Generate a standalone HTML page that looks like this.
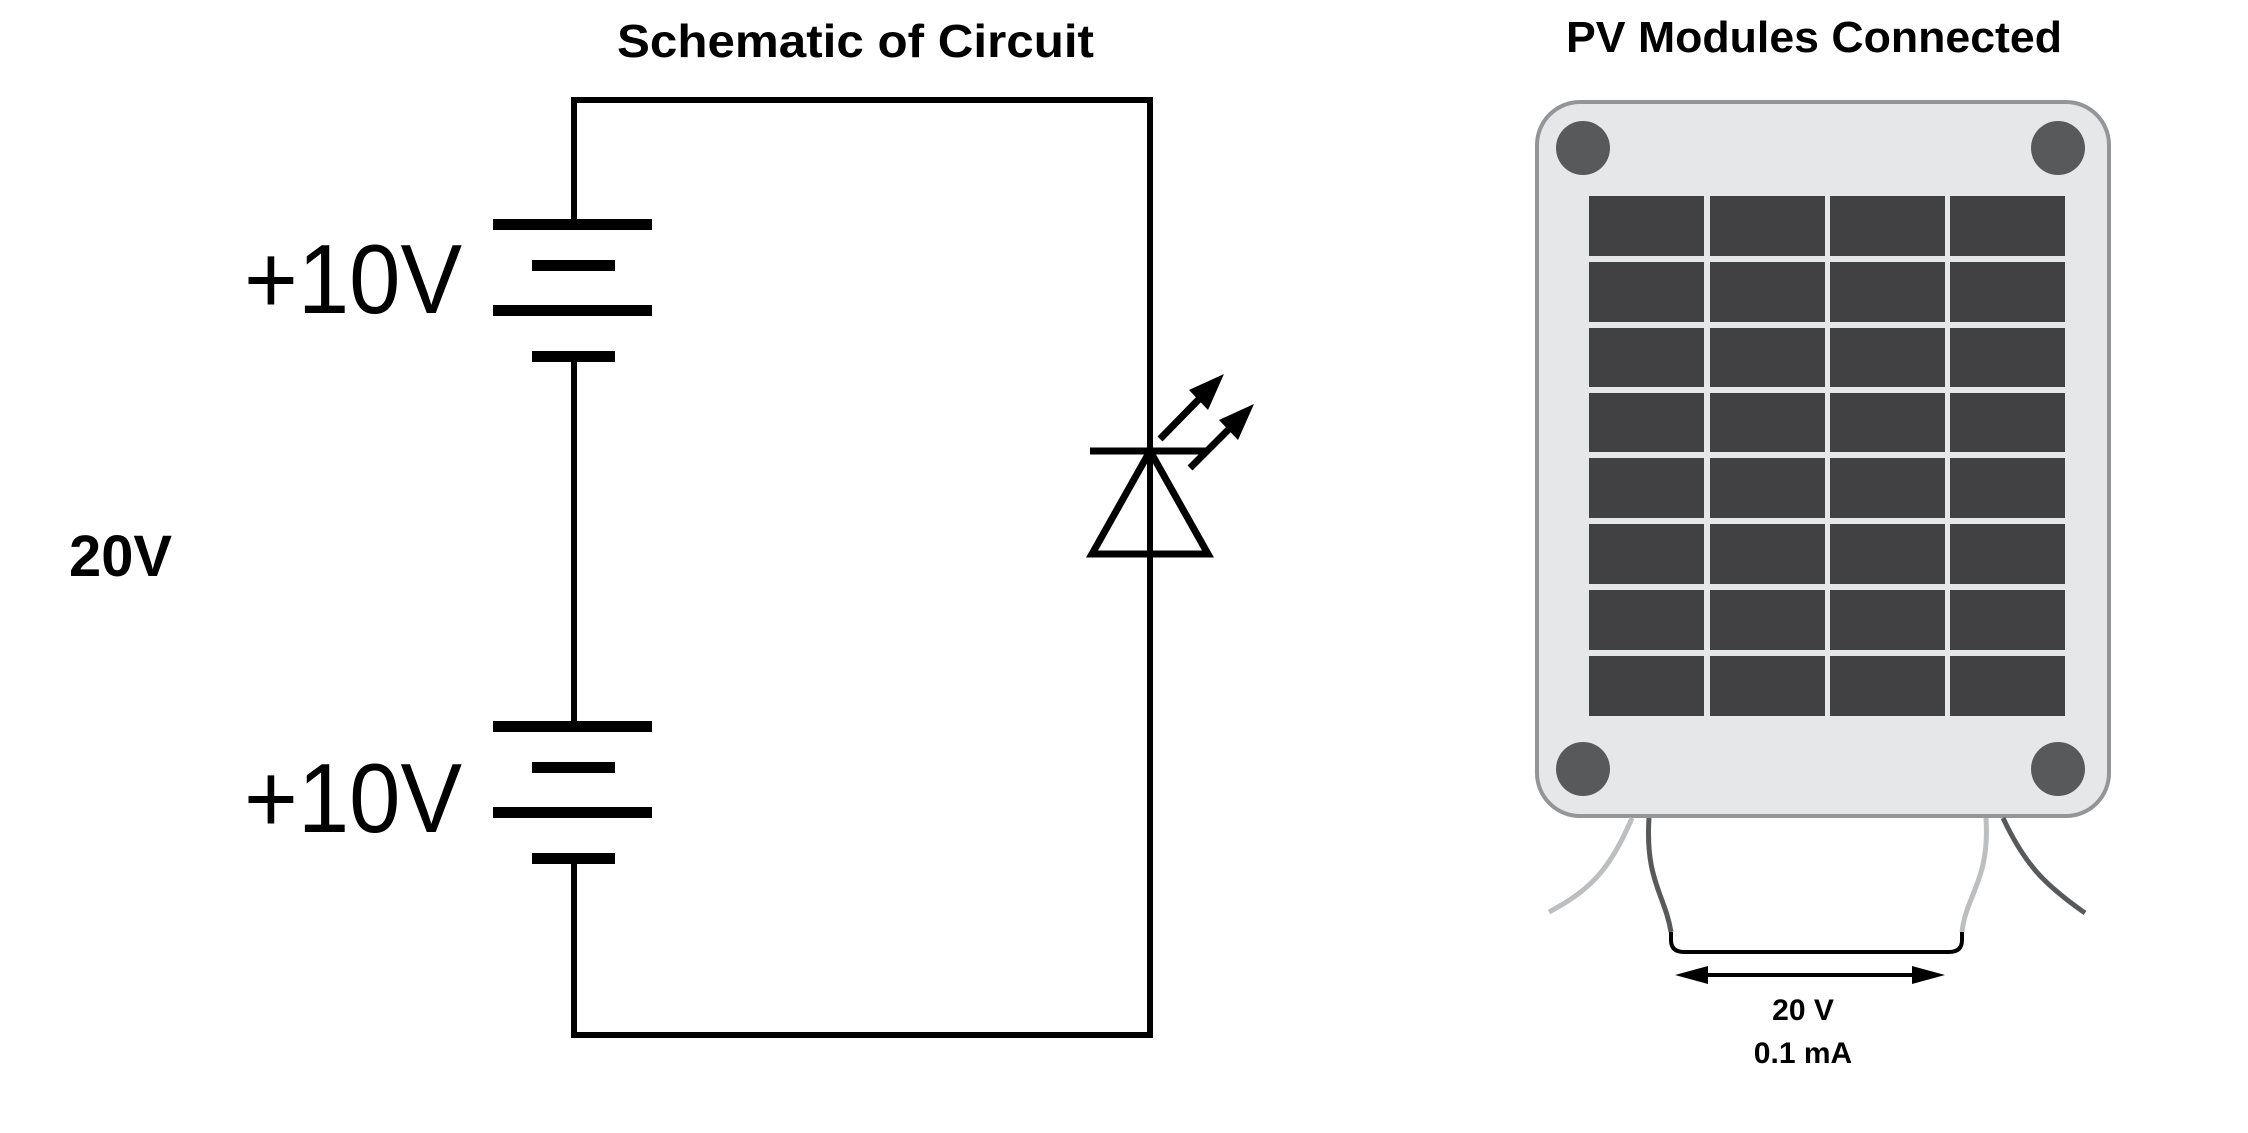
<!DOCTYPE html>
<html><head><meta charset="utf-8"><style>html,body{margin:0;padding:0;background:#fff}svg{display:block}</style></head>
<body>
<svg width="2248" height="1133" viewBox="0 0 2248 1133" xmlns="http://www.w3.org/2000/svg" font-family="Liberation Sans, sans-serif">
<rect width="2248" height="1133" fill="#fff"/>
<text x="617" y="57" font-size="46" font-weight="bold" textLength="477" lengthAdjust="spacingAndGlyphs">Schematic of Circuit</text>
<text x="1566" y="52" font-size="44" font-weight="bold" textLength="496" lengthAdjust="spacingAndGlyphs">PV Modules Connected</text>
<g stroke="#000" stroke-width="6" fill="none">
<path d="M574 224 V100 H1150 V1035 H574 V858"/>
<path d="M574 356 V726"/>
</g>
<g fill="#000">
<rect x="493" y="219" width="159" height="11"/>
<rect x="532" y="260" width="83" height="11"/>
<rect x="493" y="305" width="159" height="11"/>
<rect x="532" y="351" width="83" height="11"/>
<rect x="493" y="721" width="159" height="11"/>
<rect x="532" y="762" width="83" height="11"/>
<rect x="493" y="807" width="159" height="11"/>
<rect x="532" y="853" width="83" height="11"/>
</g>
<text x="244" y="313" font-size="98" textLength="218" lengthAdjust="spacingAndGlyphs">+10V</text>
<text x="244" y="832" font-size="98" textLength="218" lengthAdjust="spacingAndGlyphs">+10V</text>
<text x="69" y="576" font-size="58" font-weight="bold" textLength="103" lengthAdjust="spacingAndGlyphs">20V</text>
<g stroke="#000" stroke-width="7" fill="none">
<line x1="1090" y1="451" x2="1208" y2="451"/>
<path d="M1150 451 L1092 554 H1208 Z" stroke-linejoin="miter"/>
<line x1="1160" y1="439" x2="1205" y2="393"/>
<line x1="1190" y1="468" x2="1235" y2="423"/>
</g>
<polygon points="1224,374 1189,390 1208,410" fill="#000"/>
<polygon points="1254,404 1219,420 1238,440" fill="#000"/>
<rect x="1537" y="102" width="572" height="714" rx="43" fill="#e6e7e8" stroke="#939598" stroke-width="4"/>
<g fill="#58595b">
<circle cx="1583" cy="148" r="27"/><circle cx="2058" cy="148" r="27"/>
<circle cx="1583" cy="769" r="27"/><circle cx="2058" cy="769" r="27"/>
</g>
<g fill="#414042" id="cells">
<rect x="1589" y="196" width="115" height="60"/><rect x="1710" y="196" width="115" height="60"/><rect x="1830" y="196" width="115" height="60"/><rect x="1950" y="196" width="115" height="60"/>
<rect x="1589" y="262" width="115" height="60"/><rect x="1710" y="262" width="115" height="60"/><rect x="1830" y="262" width="115" height="60"/><rect x="1950" y="262" width="115" height="60"/>
<rect x="1589" y="328" width="115" height="59"/><rect x="1710" y="328" width="115" height="59"/><rect x="1830" y="328" width="115" height="59"/><rect x="1950" y="328" width="115" height="59"/>
<rect x="1589" y="393" width="115" height="59"/><rect x="1710" y="393" width="115" height="59"/><rect x="1830" y="393" width="115" height="59"/><rect x="1950" y="393" width="115" height="59"/>
<rect x="1589" y="458" width="115" height="60"/><rect x="1710" y="458" width="115" height="60"/><rect x="1830" y="458" width="115" height="60"/><rect x="1950" y="458" width="115" height="60"/>
<rect x="1589" y="524" width="115" height="60"/><rect x="1710" y="524" width="115" height="60"/><rect x="1830" y="524" width="115" height="60"/><rect x="1950" y="524" width="115" height="60"/>
<rect x="1589" y="590" width="115" height="60"/><rect x="1710" y="590" width="115" height="60"/><rect x="1830" y="590" width="115" height="60"/><rect x="1950" y="590" width="115" height="60"/>
<rect x="1589" y="656" width="115" height="60"/><rect x="1710" y="656" width="115" height="60"/><rect x="1830" y="656" width="115" height="60"/><rect x="1950" y="656" width="115" height="60"/>
</g>
<g fill="none" stroke-width="5">
<path d="M1632 818 C1610 870 1590 890 1549 912" stroke="#bcbec0"/>
<path d="M1649 818 C1645 880 1665 895 1671 932" stroke="#58595b"/>
<path d="M1986 818 C1990 880 1966 895 1962 932" stroke="#bcbec0"/>
<path d="M2003 818 C2025 865 2045 885 2085 913" stroke="#58595b"/>
<path d="M1671 932 V940 Q1671 952 1684 952 H1949 Q1962 952 1962 940 V932" stroke="#000" stroke-width="4"/>
<line x1="1700" y1="975" x2="1920" y2="975" stroke="#000" stroke-width="4"/>
</g>
<polygon points="1675,975 1708,966 1708,984" fill="#000"/>
<polygon points="1945,975 1912,966 1912,984" fill="#000"/>
<text x="1803" y="1020" font-size="30" font-weight="bold" text-anchor="middle">20 V</text>
<text x="1803" y="1063" font-size="30" font-weight="bold" text-anchor="middle">0.1 mA</text>
</svg>
</body></html>
